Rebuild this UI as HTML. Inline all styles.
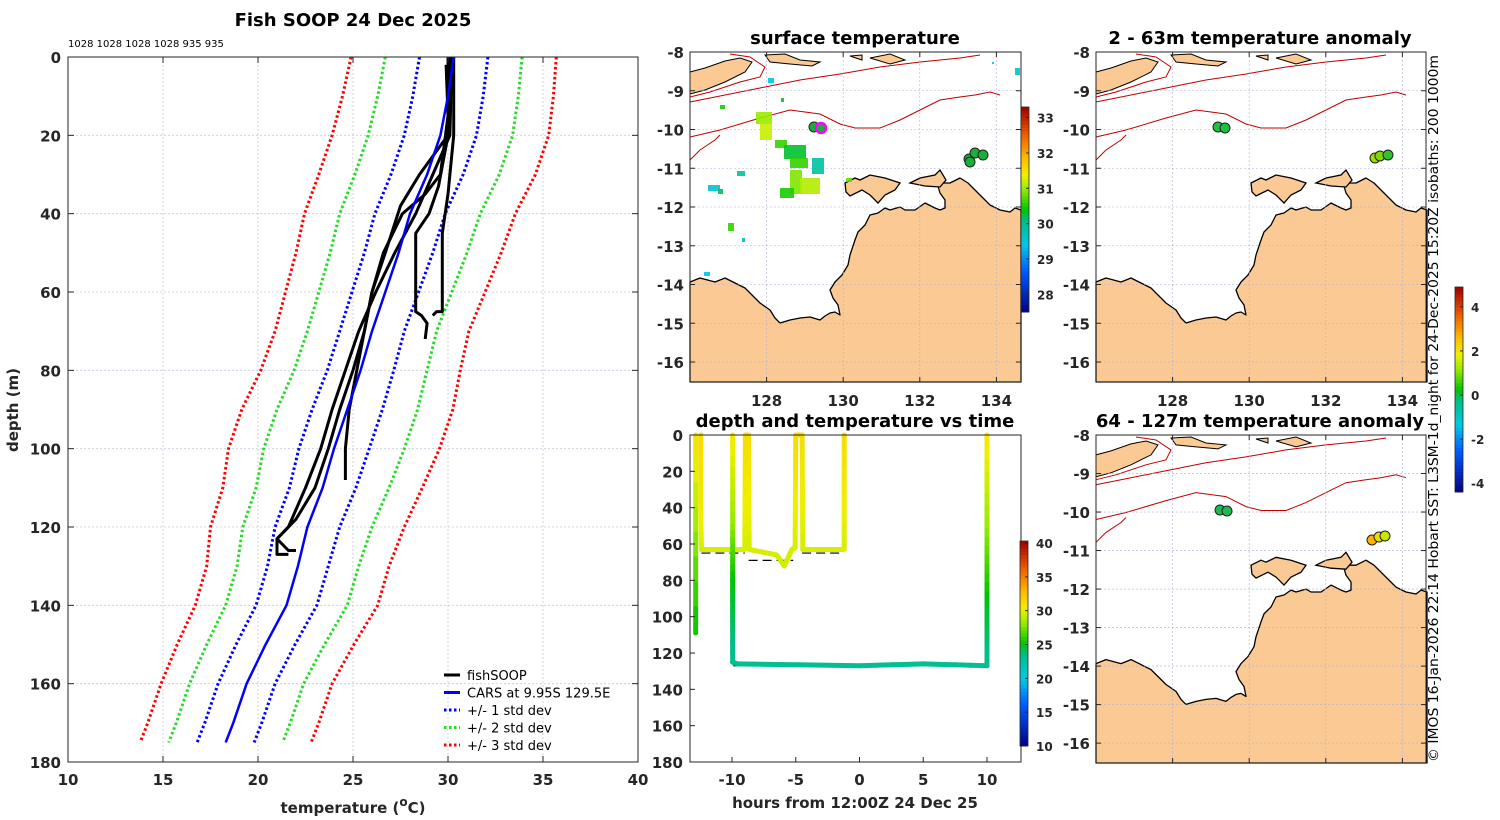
<!DOCTYPE html>
<html><head><meta charset="utf-8">
<style>
html,body{margin:0;padding:0;background:#fff;}
svg{display:block;font-family:"DejaVu Sans","Liberation Sans",sans-serif;}
.tk{font-size:15px;font-weight:bold;fill:#262626;}
.ttl{font-size:18px;font-weight:bold;fill:#000;}
</style></head>
<body>
<svg id="fig" width="1500" height="820" viewBox="0 0 1500 820" xmlns="http://www.w3.org/2000/svg"></svg>
<script>
// ---------- profile data ----------
const depths=[0,10,20,30,40,50,60,70,80,90,100,110,120,130,140,150,160,170,175];
const carsMean=[30.3,30.0,29.6,28.9,28.0,27.4,26.7,26.0,25.4,24.7,24.0,23.4,22.6,22.1,21.5,20.4,19.4,18.7,18.3];
const carsStd=[1.8,1.85,1.9,1.9,1.85,1.8,1.75,1.7,1.75,1.85,1.85,1.75,1.7,1.6,1.6,1.55,1.5,1.5,1.5];
const profA=[[0,30.2],[20,30.1],[30,29.2],[40,28.3],[50,27.2],[60,26.2],[70,25.3],[80,24.6],[90,23.9],[100,23.3],[110,22.5],[120,21.6],[123,21.0],[127,21.0],[127,21.6]];
const profB=[[0,30.0],[20,30.0],[30,28.5],[38,27.5],[50,26.7],[60,26.0],[70,25.6],[80,25.2],[90,24.8],[100,24.6],[108,24.6]];
const profC=[[0,30.1],[20,30.0],[33,29.5],[40,29.0],[45,28.3],[50,28.3],[60,28.3],[65,28.3],[66,28.6],[68,28.9],[72,28.8]];
const profD=[[0,30.3],[20,30.3],[35,30.0],[45,29.7],[55,29.7],[65,29.7],[65,29.4],[66,29.2]];
const profE=[[2,29.9],[15,30.0],[30,29.6],[35,28.8],[40,27.6],[50,26.6],[60,26.0],[70,25.6],[80,25.0],[90,24.3],[100,23.7],[110,23.0],[118,22.0],[123,21.0],[126,21.6],[126,22.0]];
const profiles=[profA,profB,profC,profD,profE];
const tempTicks=[10,15,20,25,30,35,40];
const depthTicks=[0,20,40,60,80,100,120,140,160,180];
// ---------- time-depth data ----------
const trace1T=[-12.85,-12.85];
const trace1D=[0,109];
const trace1C=[31,25];
const trace2T=[-12.45,-12.45,-12.4,-9.0,-8.95,-8.7,-8.65,-6.5,-5.9,-5.3,-5.05,-5.0,-4.5,-4.45,-1.2,-1.2];
const trace2D=[0,40,63,63,0,0,63,66,72,63,62,0,0,63,63,0];
const trace2C=[31,30.5,29.5,29.5,31,31,29.5,29.5,29.3,29.5,29.5,31,31,29.5,29.5,31];
const trace3T=[-9.95,-9.95,-9.95,-9.95,-9.6,0,5,10,10,10,10];
const trace3D=[0,50,80,125,126,127,126,127,90,50,0];
const trace3C=[30.5,28,25,23,23,23,23,23,24.8,28,30.5];
const refT1=[-12.4,-9.0], refD1=[65,65];
const refT2=[-8.7,-5.2], refD2=[69,69];
const refT3=[-4.5,-1.2], refD3=[65,65];
const refT4=[-9.9,10], refD4=[127,127];
const hourTicks=[-10,-5,0,5,10];
const tdDepthTicks=[0,20,40,60,80,100,120,140,160,180];
const lonTicks=[128,130,132,134];
const latTicks=[-8,-9,-10,-11,-12,-13,-14,-15,-16];
const sstTicks=[28,29,30,31,32,33];
const anomTicks=[-4,-2,0,2,4];
const tdcTicks=[10,15,20,25,30,35,40];

const NS="http://www.w3.org/2000/svg";
const svg=document.getElementById('fig');
function el(tag,attrs,parent){const e=document.createElementNS(NS,tag);for(const k in attrs)e.setAttribute(k,attrs[k]);(parent||svg).appendChild(e);return e;}
function txt(x,y,s,attrs,parent){const t=el('text',Object.assign({x:x,y:y},attrs||{}),parent);t.textContent=s;return t;}

const cstops=[[0,[0,0,128]],[0.2,[0,90,255]],[0.33,[0,200,230]],[0.45,[0,190,130]],[0.5,[0,195,0]],[0.6,[150,235,0]],[0.67,[240,240,0]],[0.75,[255,190,0]],[0.87,[235,90,0]],[1,[160,0,0]]];
function cmap(v){v=Math.max(0,Math.min(1,v));for(let i=1;i<cstops.length;i++){if(v<=cstops[i][0]){const a=cstops[i-1],b=cstops[i];const f=(v-a[0])/(b[0]-a[0]);const c=a[1].map((x,j)=>Math.round(x+(b[1][j]-x)*f));return `rgb(${c[0]},${c[1]},${c[2]})`;}}return 'rgb(160,0,0)';}

// ================= PROFILE PANEL =================
const P={x0:68,x1:638,y0:57,y1:762};
const px=t=>P.x0+(t-10)/30*(P.x1-P.x0);
const py=d=>P.y0+d/180*(P.y1-P.y0);
const gProf=el('g',{});


el('rect',{x:P.x0,y:P.y0,width:P.x1-P.x0,height:P.y1-P.y0,fill:'#fff'},gProf);
tempTicks.forEach(t=>{if(t>10&&t<40)el('line',{x1:px(t),x2:px(t),y1:P.y0,y2:P.y1,stroke:'#c8c8e0','stroke-width':0.8,'stroke-dasharray':'2,2'},gProf);});
depthTicks.forEach(d=>{if(d>0&&d<180)el('line',{x1:P.x0,x2:P.x1,y1:py(d),y2:py(d),stroke:'#c8c8e0','stroke-width':0.8,'stroke-dasharray':'2,2'},gProf);});
function dline(k,color,name){
  const pts=depths.map((d,i)=>px(carsMean[i]+k*carsStd[i]).toFixed(1)+','+py(d).toFixed(1)).join(' ');
  const l=el('polyline',{points:pts,fill:'none',stroke:color,'stroke-width':3,'stroke-dasharray':'2.5,2.5'},gProf);
  
  
}
dline(-3,'#ff0000','minus-3std-line');dline(3,'#ff0000','plus-3std-line');
dline(-2,'#22dd22','minus-2std-line');dline(2,'#22dd22','plus-2std-line');
dline(-1,'#0000ff','minus-1std-line');dline(1,'#0000ff','plus-1std-line');
profiles.forEach((p,i)=>{
  const l=el('polyline',{points:p.map(q=>px(q[1]).toFixed(1)+','+py(q[0]).toFixed(1)).join(' '),fill:'none',stroke:'#000','stroke-width':3,'stroke-linejoin':'round'},gProf);
  
  
});
{const l=el('polyline',{points:depths.map((d,i)=>px(carsMean[i]).toFixed(1)+','+py(d).toFixed(1)).join(' '),fill:'none',stroke:'#0000ff','stroke-width':2.5},gProf);

}
el('rect',{x:P.x0,y:P.y0,width:P.x1-P.x0,height:P.y1-P.y0,fill:'none',stroke:'#262626','stroke-width':1},gProf);
tempTicks.forEach(t=>{el('line',{x1:px(t),x2:px(t),y1:P.y1,y2:P.y1-6,stroke:'#262626'},gProf);el('line',{x1:px(t),x2:px(t),y1:P.y0,y2:P.y0+6,stroke:'#262626'},gProf);
  const s=txt(px(t),785,String(t),{'text-anchor':'middle',class:'tk'},gProf);});
depthTicks.forEach(d=>{el('line',{x1:P.x0,x2:P.x0+6,y1:py(d),y2:py(d),stroke:'#262626'},gProf);el('line',{x1:P.x1,x2:P.x1-6,y1:py(d),y2:py(d),stroke:'#262626'},gProf);
  const s=txt(61,py(d)+6,String(d),{'text-anchor':'end',class:'tk'},gProf);});
{const t=txt(353,26,'Fish SOOP 24 Dec 2025',{'text-anchor':'middle',class:'ttl'});}
{const t=txt(68,47,'1028 1028 1028 1028 935 935',{'font-size':'10px',fill:'#000'});}
{const t=txt(18,410,'depth (m)',{'text-anchor':'middle',class:'tk','font-size':'17px',transform:'rotate(-90 18 410)'});}
{const t=el('text',{x:353,y:813,'text-anchor':'middle',class:'tk','font-size':'17px'});t.innerHTML='temperature (<tspan dy="-7" font-size="12">o</tspan><tspan dy="7">C)</tspan>';}
const leg=el('g',{});


[['fishSOOP','#000',''],['CARS at 9.95S 129.5E','#0000ff',''],['+/- 1 std dev','#0000ff','2.5,2.5'],['+/- 2 std dev','#22dd22','2.5,2.5'],['+/- 3 std dev','#ff0000','2.5,2.5']].forEach((e,i)=>{
  const y=675+i*17.5;
  const g=el('g',{},leg);
  
  
  el('line',{x1:444,x2:460,y1:y,y2:y,stroke:e[1],'stroke-width':3,'stroke-dasharray':e[2]||'none'},g);
  txt(467,y+5,e[0],{'font-size':'13px',fill:'#000'},g);
});

// ================= MAPS =================
const coast=[[0,230],[10,226],[25,230],[35,226],[45,231],[55,236],[62,243],[70,251],[80,258],[85,266],[90,271],[100,268],[110,266],[120,265],[130,268],[135,264],[140,261],[145,260],[150,263],[148,253],[143,246],[140,238],[145,230],[152,223],[158,213],[160,203],[165,188],[168,180],[175,173],[180,163],[188,161],[195,156],[200,158],[210,155],[215,158],[225,158],[235,151],[245,156],[250,158],[255,156],[255,148],[250,141],[247,131],[260,131],[270,126],[278,131],[285,138],[293,146],[300,153],[310,158],[320,160],[325,156],[331,158],[331,330],[0,330]];
const melville=[[155,131],[165,126],[170,128],[180,123],[195,126],[210,131],[205,138],[195,143],[188,151],[180,143],[172,138],[160,144],[156,140]];
const coburg=[[220,131],[230,126],[245,123],[250,118],[256,128],[250,135],[235,134]];
const timor=[[0,20],[15,16],[35,9],[50,6],[62,10],[55,20],[35,30],[15,38],[0,42]];
const islands=[[[75,3],[95,2],[110,8],[130,10],[122,14],[100,12],[80,10]],[[180,6],[200,2],[215,8],[200,12]],[[160,4],[172,3],[172,8]]];
const iso1=[[0,85],[30,78],[70,66],[100,58],[130,62],[150,72],[165,76],[190,76],[210,68],[230,58],[250,48],[270,45],[285,43],[300,40],[310,43]];
const iso2=[[0,50],[30,44],[70,36],[110,28],[150,22],[190,15],[230,10],[270,6],[290,3]];
const iso3=[[0,108],[10,98],[25,88],[30,83]];
const iso4=[[0,45],[20,40],[50,30],[70,25],[75,15],[60,5],[40,2]];
function mapPanel(ox,oy,w,h,name){
  const g=el('g',{});
  
  
  const sy=h/330;
  const P2=a=>a.map(p=>(ox+p[0]).toFixed(1)+','+(oy+p[1]*sy).toFixed(1)).join(' ');
  el('rect',{x:ox,y:oy,width:w,height:h,fill:'#fff'},g);
  [timor].concat(islands).forEach(pl=>el('polygon',{points:P2(pl),fill:'#fbc994',stroke:'#000','stroke-width':1},g));
  [iso1,iso2,iso3,iso4].forEach(pl=>el('polyline',{points:P2(pl),fill:'none',stroke:'#c00000','stroke-width':1},g));
  const land=el('polygon',{points:P2(coast),fill:'#fbc994',stroke:'#000','stroke-width':1.3,'stroke-linejoin':'round'},g);
  
  
  [melville,coburg].forEach(pl=>el('polygon',{points:P2(pl),fill:'#fbc994',stroke:'#000','stroke-width':1.3},g));
  const lx=lon=>ox+(lon-126)*38.3;
  const ly=lat=>oy+(-8-lat)*38.75*sy;
  lonTicks.forEach(l=>{el('line',{x1:lx(l),x2:lx(l),y1:oy,y2:oy+h,stroke:'#b0b0d8','stroke-width':0.6,'stroke-dasharray':'2,2'},g);el('line',{x1:lx(l),x2:lx(l),y1:oy+h,y2:oy+h-5,stroke:'#262626'},g);el('line',{x1:lx(l),x2:lx(l),y1:oy,y2:oy+5,stroke:'#262626'},g);});
  latTicks.forEach(l=>{el('line',{x1:ox,x2:ox+w,y1:ly(l),y2:ly(l),stroke:'#b0b0d8','stroke-width':0.6,'stroke-dasharray':'2,2'},g);el('line',{x1:ox,x2:ox+5,y1:ly(l),y2:ly(l),stroke:'#262626'},g);el('line',{x1:ox+w,x2:ox+w-5,y1:ly(l),y2:ly(l),stroke:'#262626'},g);
    const t=txt(ox-6,ly(l)+6,String(l),{'text-anchor':'end',class:'tk'},g);});
  el('rect',{x:ox,y:oy,width:w,height:h,fill:'none',stroke:'#262626'},g);
  return {g,lx,ly};
}
function lonLabels(m,y){lonTicks.forEach(l=>{const t=txt(m.lx(l),y,String(l),{'text-anchor':'middle',class:'tk'},m.g);});}
function colorbar(x,y,w,h,vmin,vmax,ticks,name){
  const g=el('g',{});
  
  
  const n=60;
  for(let i=0;i<n;i++){el('rect',{x:x,y:y+h-(i+1)*h/n,width:w,height:h/n+0.5,fill:cmap((i+0.5)/n)},g);}
  el('rect',{x:x,y:y,width:w,height:h,fill:'none',stroke:'#262626','stroke-width':0.8},g);
  ticks.forEach(t=>{const yy=y+h-(t-vmin)/(vmax-vmin)*h;el('line',{x1:x+w-3,x2:x+w,y1:yy,y2:yy,stroke:'#262626'},g);
    const s=txt(x+w+8,yy+5,String(t),{'font-size':'12px','font-weight':'bold',fill:'#262626'},g);});
}
function dot(g,x,y,c,ring){const d=el('circle',{cx:x,cy:y,r:5,fill:c,stroke:ring||'#222','stroke-width':ring?2.5:1},g);}

const m1=mapPanel(690,52,331,330,'surface-temperature-map');
lonLabels(m1,406);
const sstBlobs=[[768,78,6,5,29.5],[756,112,16,12,31],[760,124,12,16,31.2],[775,140,12,8,30.6],[784,145,22,14,30.3],[790,158,18,10,30.6],[790,170,12,24,30.9],[800,178,20,16,31.1],[780,188,14,10,30.5],[812,158,12,16,29.9],[737,171,8,5,29.9],[708,185,12,6,29.6],[718,189,5,5,30.2],[728,223,6,8,30.6],[742,238,3,4,29.8],[704,272,6,4,29.4],[720,105,5,4,30.5],[846,178,6,4,30.8],[1015,68,5,7,29.7],[992,62,2,2,29.6],[781,98,3,4,30.3]];
sstBlobs.forEach(b=>{const r=el('rect',{x:b[0],y:b[1],width:b[2],height:b[3],fill:cmap((b[4]-27.5)/(33.3-27.5)),opacity:0.9},m1.g);});
dot(m1.g,814,127,'#18b038');dot(m1.g,821,128,'#18b038','#ff00ff');
dot(m1.g,969,159,'#18b038');dot(m1.g,975,153,'#18b038');dot(m1.g,983,155,'#18b038');dot(m1.g,970,162,'#18b038');
colorbar(1021,107,8,205,27.5,33.3,sstTicks,'sst-colorbar');
{const t=txt(855,44,'surface temperature',{'text-anchor':'middle',class:'ttl'});}

const m2=mapPanel(1096,52,330,330,'anomaly-2-63m-map');
lonLabels(m2,406);
dot(m2.g,1218,127,'#20c040');dot(m2.g,1225,128,'#20c040');
dot(m2.g,1375,158,'#a0e000');dot(m2.g,1380,156,'#80d800');dot(m2.g,1388,155,'#30c030');
{const t=txt(1260,44,'2 - 63m temperature anomaly',{'text-anchor':'middle',class:'ttl'});}

const m3=mapPanel(1096,435,330,328,'anomaly-64-127m-map');
dot(m3.g,1220,510,'#20b850');dot(m3.g,1227,511,'#20b850');
dot(m3.g,1372,540,'#ffb000');dot(m3.g,1379,537,'#e8e000');dot(m3.g,1385,536,'#c8e800');
{const t=txt(1260,427,'64 - 127m temperature anomaly',{'text-anchor':'middle',class:'ttl'});}
colorbar(1455,287,8,205,-4.4,4.9,anomTicks,'anomaly-colorbar');

// ================= TIME-DEPTH PANEL =================
const T={x0:690,x1:1021,y0:435,y1:762};
const tx=h=>732+(h+10)*12.75;
const ty=d=>T.y0+d/180*(T.y1-T.y0);
const gT=el('g',{});


[[refT1,refD1],[refT2,refD2],[refT3,refD3],[refT4,refD4]].forEach(r=>{const l=el('line',{x1:tx(r[0][0]),x2:tx(r[0][1]),y1:ty(r[1][0]),y2:ty(r[1][1]),stroke:'#000','stroke-width':1.2,'stroke-dasharray':'9,5'},gT);});
function trace(ts,ds,cs,name){
  const g=el('g',{},gT);
  
  
  for(let i=0;i<ts.length-1;i++){
    const n=8;
    for(let k=0;k<n;k++){
      const f0=k/n,f1=(k+1)/n;
      const c=cs[i]+(cs[i+1]-cs[i])*(f0+f1)/2;
      el('line',{x1:tx(ts[i]+(ts[i+1]-ts[i])*f0),y1:ty(ds[i]+(ds[i+1]-ds[i])*f0),x2:tx(ts[i]+(ts[i+1]-ts[i])*f1),y2:ty(ds[i]+(ds[i+1]-ds[i])*f1),stroke:cmap((c-10)/30),'stroke-width':5,'stroke-linecap':'round'},g);
    }
  }
}
trace(trace1T,trace1D,trace1C,'trace-1');
trace(trace2T,trace2D,trace2C,'trace-2');
trace(trace3T,trace3D,trace3C,'trace-3');
el('rect',{x:T.x0,y:T.y0,width:T.x1-T.x0,height:T.y1-T.y0,fill:'none',stroke:'#262626'},gT);
hourTicks.forEach(h=>{el('line',{x1:tx(h),x2:tx(h),y1:T.y1,y2:T.y1-5,stroke:'#262626'},gT);
  const s=txt(tx(h),785,String(h),{'text-anchor':'middle',class:'tk'},gT);});
tdDepthTicks.forEach(d=>{el('line',{x1:T.x0,x2:T.x0+5,y1:ty(d),y2:ty(d),stroke:'#262626'},gT);
  const s=txt(T.x0-7,ty(d)+6,String(d),{'text-anchor':'end',class:'tk'},gT);});
{const t=txt(855,808,'hours from 12:00Z 24 Dec 25',{'text-anchor':'middle',class:'tk','font-size':'17px'});}
{const t=txt(855,427,'depth and temperature vs time',{'text-anchor':'middle',class:'ttl'});}
colorbar(1020,541,8,205,10,40.3,tdcTicks,'time-temp-colorbar');

{const t=txt(1438,762,'© IMOS 16-Jan-2026 22:14 Hobart SST: L3SM-1d_night for 24-Dec-2025 15:20Z isobaths: 200  1000m',{'font-size':'13px',fill:'#000',textLength:'707',lengthAdjust:'spacingAndGlyphs',transform:'rotate(-90 1438 762)'});}
</script>
</body></html>
